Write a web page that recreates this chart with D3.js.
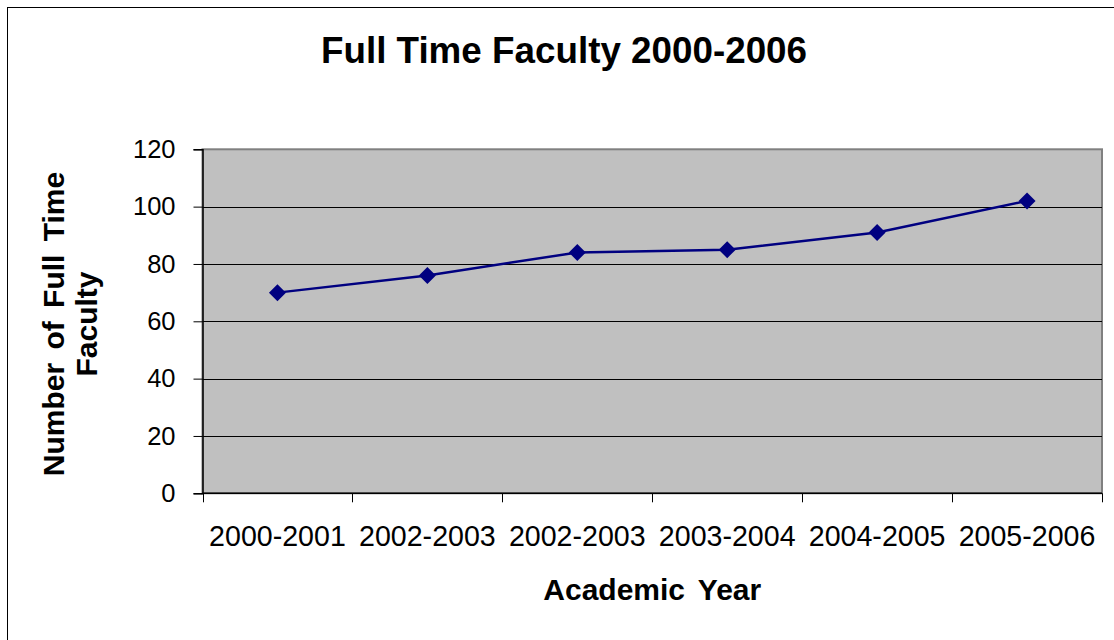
<!DOCTYPE html>
<html>
<head>
<meta charset="utf-8">
<script src="https://cdn.jsdelivr.net/npm/d3@7"></script>
<style>
  body { margin: 0; background: #fff; }
  text { font-family: "Liberation Sans", Arial, sans-serif; fill: #000; }
</style>
</head>
<body>
<div id="chart"></div>
<script>
var width = 1114, height = 640;

// data
var years = ["2000-2001", "2002-2003", "2002-2003 ", "2003-2004", "2004-2005", "2005-2006"];
var yearLabels = ["2000-2001", "2002-2003", "2002-2003", "2003-2004", "2004-2005", "2005-2006"];
var faculty = [70, 76, 84, 85, 91, 102];
var yTicks = [0, 20, 40, 60, 80, 100, 120];

var plot = {left: 202.5, right: 1102, top: 149.3, bottom: 493.3};

var svg = d3.select("#chart").append("svg").attr("width", width).attr("height", height);

// outer chart border
svg.append("rect").attr("x", 7.5).attr("y", 7.5).attr("width", 1130).attr("height", 700)
  .attr("fill", "#fff").attr("stroke", "#000").attr("stroke-width", 1);

var x = d3.scaleBand().domain(years).range([plot.left, plot.right]);
var xb = d3.scaleLinear().domain([0, years.length]).range([plot.left, plot.right]);
var y = d3.scaleLinear().domain([0, 120]).range([plot.bottom, plot.top]);

// plot area
svg.append("rect").attr("x", plot.left).attr("y", plot.top)
  .attr("width", plot.right - plot.left).attr("height", plot.bottom - plot.top)
  .attr("fill", "#c0c0c0").attr("stroke", "#808080").attr("stroke-width", 2);

// gridlines
svg.append("g").selectAll("line").data(yTicks.filter(function(d){ return d > 0 && d < 120; }))
  .enter().append("line")
  .attr("x1", plot.left).attr("x2", plot.right)
  .attr("y1", function(d){ return Math.round(y(d)) + 0.5; })
  .attr("y2", function(d){ return Math.round(y(d)) + 0.5; })
  .attr("stroke", "#000").attr("stroke-width", 1);

// y axis
var yAxis = svg.append("g").attr("transform", "translate(" + plot.left + ",0)")
  .call(d3.axisLeft(y).tickValues(yTicks).tickSize(9).tickPadding(18));
yAxis.select(".domain").attr("stroke", "#000").attr("stroke-width", 1.5);
yAxis.selectAll(".tick line").attr("stroke", "#000");
yAxis.selectAll("text").style("font-size", "25.5px").attr("fill", "#000");

// x axis line + boundary ticks
svg.append("line").attr("x1", plot.left).attr("x2", plot.right)
  .attr("y1", plot.bottom).attr("y2", plot.bottom).attr("stroke", "#000").attr("stroke-width", 1.5);
svg.append("g").selectAll("line").data(d3.range(years.length + 1)).enter().append("line")
  .attr("x1", function(d){ return Math.round(xb(d)) + 0.5; })
  .attr("x2", function(d){ return Math.round(xb(d)) + 0.5; })
  .attr("y1", plot.bottom).attr("y2", plot.bottom + 9)
  .attr("stroke", "#000").attr("stroke-width", 1);

var xAxis = svg.append("g").attr("transform", "translate(0," + plot.bottom + ")")
  .call(d3.axisBottom(x).tickSize(0).tickPadding(32).tickFormat(function(d, i){ return yearLabels[i]; }));
xAxis.select(".domain").remove();
xAxis.selectAll("text").style("font-size", "28.6px").attr("fill", "#000");

// series line
var line = d3.line()
  .x(function(d, i){ return x(years[i]) + x.bandwidth() / 2; })
  .y(function(d){ return y(d); });
svg.append("path").datum(faculty).attr("d", line)
  .attr("fill", "none").attr("stroke", "#000080").attr("stroke-width", 2.5);

// diamond markers
var r = 8.5;
svg.append("g").selectAll("path").data(faculty).enter().append("path")
  .attr("d", function(d, i){
    var cx = x(years[i]) + x.bandwidth() / 2, cy = y(d);
    return "M" + cx + "," + (cy - r) + "L" + (cx + r) + "," + cy + "L" + cx + "," + (cy + r) + "L" + (cx - r) + "," + cy + "Z";
  })
  .attr("fill", "#000080");

// titles
svg.append("text").attr("x", 564).attr("y", 63).attr("text-anchor", "middle")
  .style("font-size", "36.8px").style("font-weight", "bold").text("Full Time Faculty 2000-2006");

svg.append("text").attr("x", (plot.left + plot.right) / 2).attr("y", 600).attr("text-anchor", "middle")
  .style("font-size", "30px").style("font-weight", "bold")
  .style("word-spacing", "5px").text("Academic Year");

var yt = svg.append("text").attr("transform", "translate(0,324) rotate(-90)").attr("text-anchor", "middle")
  .style("font-size", "30px").style("font-weight", "bold")
  .style("word-spacing", "5px");
yt.append("tspan").attr("x", 0).attr("y", 64).text("Number of Full Time");
yt.append("tspan").attr("x", 0).attr("y", 97).text("Faculty");
</script>
</body>
</html>
